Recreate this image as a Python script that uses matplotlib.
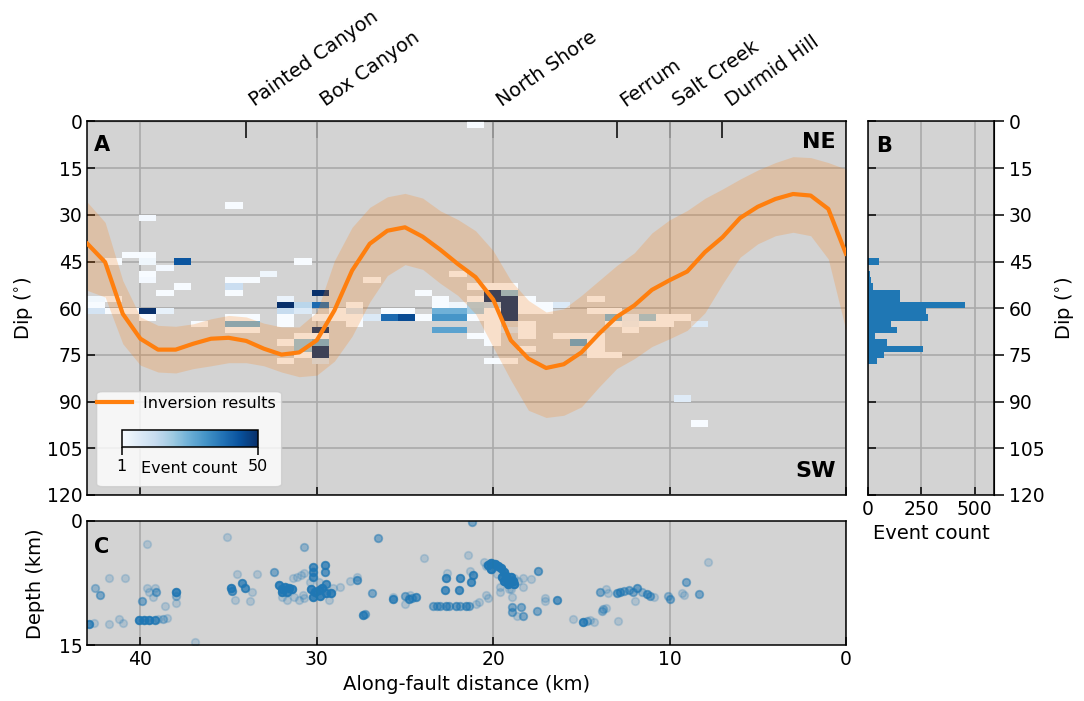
import numpy as np
import matplotlib
matplotlib.use("Agg")
import matplotlib.pyplot as plt
from matplotlib.patches import FancyBboxPatch
from matplotlib.colors import Normalize
from matplotlib.cm import ScalarMappable

# ---------------- data ----------------
place_names = ["Painted Canyon", "Box Canyon", "North Shore", "Ferrum", "Salt Creek", "Durmid Hill"]
place_km = [34, 30, 20, 13, 10, 7]

inv_km = [43, 42, 41, 40, 39, 38, 37, 36, 35, 34, 33, 32, 31, 30, 29, 28, 27, 26, 25, 24, 23, 22,
          21, 20, 19, 18, 17, 16, 15, 14, 13, 12, 11, 10, 9, 8, 7, 6, 5, 4, 3, 2, 1, 0]
inv_dip = [39.3, 45.2, 61.8, 69.8, 73.3, 73.3, 71.4, 69.8, 69.5, 70.5, 73.0, 74.9, 74.2, 70.3, 60.7,
           47.9, 39.3, 35.1, 34.0, 37.0, 41.2, 45.8, 50.0, 57.2, 70.3, 76.2, 79.2, 78.0, 74.2, 68.2,
           62.8, 59.1, 54.1, 51.0, 48.2, 42.0, 37.2, 31.0, 27.4, 24.9, 23.3, 23.8, 28.1, 42.5]
inv_upper = [26.0, 32.4, 51.1, 62.8, 65.5, 65.8, 65.0, 63.4, 62.3, 62.8, 64.8, 66.0, 66.0, 61.2, 44.7,
             34.0, 27.6, 24.2, 23.1, 24.6, 28.7, 31.5, 35.1, 41.5, 51.1, 57.5, 61.2, 60.2, 55.9, 51.1,
             46.3, 42.2, 35.8, 31.6, 28.6, 24.7, 21.7, 18.5, 15.6, 13.2, 11.3, 11.6, 13.2, 15.3]
inv_lower = [54.3, 56.4, 71.4, 78.3, 80.5, 80.8, 79.4, 78.5, 77.5, 77.5, 78.5, 80.5, 82.0, 81.5, 77.0,
             69.0, 58.0, 49.5, 46.0, 47.5, 52.0, 55.9, 61.8, 72.5, 83.1, 92.8, 95.1, 94.4, 91.7, 85.3,
             79.4, 76.2, 72.3, 69.8, 67.1, 61.5, 52.2, 43.6, 39.3, 36.7, 35.6, 36.7, 44.2, 67.1]

# heat-map cells: along-fault distance (km, bin centre), dip bin (lower edge, deg), event count
cell_km = [42.5, 42.5, 42.5,
           41.5, 41.5, 41.5,
           40.6, 40.6,
           39.6, 39.6, 39.6, 39.6, 39.6, 39.6, 39.6,
           38.6, 38.6, 38.6,
           37.6, 37.6,
           36.6,
           34.7, 34.7, 34.7, 34.7, 34.7, 34.7, 34.7,
           33.7, 33.7, 33.7, 33.7,
           32.7,
           31.8, 31.8, 31.8, 31.8, 31.8, 31.8, 31.8,
           30.8, 30.8, 30.8, 30.8, 30.8, 30.8, 30.8,
           29.8, 29.8, 29.8, 29.8, 29.8, 29.8, 29.8, 29.8, 29.8,
           28.8, 28.8,
           27.9, 27.9, 27.9, 27.9,
           26.9, 26.9,
           25.9, 25.9,
           24.9, 24.9,
           23.9, 23.9,
           23.0, 23.0, 23.0, 23.0, 23.0,
           22.0, 22.0, 22.0, 22.0, 22.0,
           21.0, 21.0, 21.0, 21.0, 21.0, 21.0, 21.0,
           20.0, 20.0, 20.0, 20.0, 20.0, 20.0, 20.0, 20.0, 20.0, 20.0, 20.0,
           19.1, 19.1, 19.1, 19.1, 19.1, 19.1, 19.1, 19.1,
           18.1, 18.1, 18.1, 18.1, 18.1, 18.1, 18.1,
           17.1, 17.1,
           16.1, 16.1,
           15.1, 15.1,
           14.2, 14.2, 14.2, 14.2, 14.2, 14.2,
           13.2, 13.2, 13.2, 13.2,
           12.2, 12.2, 12.2,
           11.2, 11.2,
           10.3, 10.3,
           9.3, 9.3,
           8.3, 8.3]
cell_dip = [56, 58, 60,
            44, 56, 60,
            42, 60,
            30, 42, 44, 48, 50, 60, 62,
            46, 54, 60,
            44, 52,
            64,
            26, 50, 52, 54, 62, 64, 66,
            50, 62, 64, 66,
            48,
            56, 58, 60, 62, 64, 70, 76,
            44, 58, 60, 68, 70, 72, 74,
            54, 58, 62, 66, 68, 70, 72, 74, 76,
            60, 62,
            58, 60, 62, 64,
            50, 62,
            60, 62,
            60, 62,
            54, 62,
            56, 58, 60, 62, 66,
            48, 58, 60, 62, 66,
            0, 52, 56, 58, 60, 62, 68,
            52, 54, 56, 58, 60, 62, 64, 66, 68, 70, 76,
            52, 54, 56, 58, 60, 62, 66, 76,
            56, 58, 60, 64, 66, 68, 72,
            58, 60,
            58, 68,
            68, 70,
            56, 60, 68, 70, 72, 74,
            60, 62, 64, 74,
            62, 64, 66,
            62, 64,
            62, 64,
            62, 88,
            64, 96]
cell_count = [3, 1, 10,
              1, 1, 1,
              1, 1,
              2, 1, 3, 1, 2, 50, 1,
              2, 1, 5,
              43, 1,
              1,
              1, 1, 12, 1, 1, 25, 1,
              1, 1, 25, 1,
              3,
              4, 50, 13, 1, 1, 1, 1,
              1, 15, 8, 1, 21, 21, 1,
              50, 39, 1, 50, 1, 25, 50, 50, 10,
              1, 1,
              1, 10, 1, 1,
              1, 8,
              1, 39,
              1, 45,
              1, 1,
              1, 1, 25, 31, 28,
              1, 3, 25, 31, 28,
              1, 1, 1, 17, 18, 1, 1,
              1, 50, 50, 15, 1, 1, 1, 1, 1, 1, 1,
              1, 22, 50, 50, 50, 50, 10, 1,
              1, 1, 1, 1, 1, 1, 1,
              1, 1,
              8, 1,
              1, 28,
              1, 1, 1, 1, 1, 1,
              1, 24, 1, 1,
              5, 4, 1,
              20, 1,
              1, 1,
              1, 7,
              8, 1]

# panel B histogram (dip bin lower edge, count)
hist_dip = [44, 48, 50, 52, 54, 56, 58, 60, 62, 64, 66, 68, 70, 72, 74, 76]
hist_count = [52, 9, 12, 25, 150, 150, 456, 271, 279, 107, 135, 34, 91, 257, 75, 41]

# panel C events: distance (km), depth (km), number of overlapping events
eq_km = [42.9, 42.65, 42.6, 42.3, 41.8, 41.8, 41.2, 41.0, 40.9, 39.9,
         40.1, 39.8, 39.5, 39.2, 39.0, 39.6, 39.6, 39.2, 39.1, 39.5,
         39.3, 38.6, 38.7, 38.5, 38.0, 38.0, 38.0, 36.9,
         35.1, 34.85, 34.8, 34.5, 34.24, 34.05, 34.66, 33.8, 33.7, 33.4, 32.4,
         32.15, 31.95, 31.8, 31.6, 31.4, 32.0, 31.7,
         31.35, 31.1, 30.9, 30.8, 31.0, 31.7, 31.95, 30.7, 31.3,
         30.7, 30.2, 30.2, 30.2, 29.55, 29.55,
         30.35, 30.1, 29.9, 29.7, 29.5, 29.2, 30.2, 29.8, 29.45,
         30.7, 29.1, 29.85, 30.4, 28.7, 29.3,
         27.7, 27.7, 28.1, 26.85, 26.55, 27.4, 27.25,
         25.7, 25.0, 24.8, 24.35, 24.6, 25.7, 25.0, 24.7,
         23.9,
         23.4, 23.2, 23.0, 22.65, 22.5, 22.1, 21.9, 21.55, 21.35,
         22.65, 21.9, 21.15, 22.75, 21.95, 21.25, 22.6, 21.3, 21.4, 21.2,
         20.95, 20.8, 20.4, 20.3,
         20.3, 20.1, 19.9, 19.75, 20.1, 19.55, 19.4, 19.3, 19.2, 19.1, 19.0, 18.9, 19.4, 19.5, 18.8, 19.15,
         20.5, 19.8, 19.6, 19.0, 18.8, 18.6, 18.3, 18.3, 17.85, 19.6, 19.1, 18.95, 20.4,
         17.45, 18.95, 18.4, 18.95, 18.3, 18.65, 17.5, 17.05, 17.05, 16.4,
         15.45, 14.9, 14.7, 14.5, 14.3, 13.85, 13.8, 13.6, 12.9,
         13.95, 13.6, 13.5, 13.0, 12.8, 12.6, 12.3, 12.1, 11.85, 11.55, 11.3, 11.1, 10.9, 11.95,
         10.1, 9.95, 9.3, 9.2, 9.05, 8.35, 7.8]
eq_depth = [12.4, 12.25, 8.1, 8.95, 6.9, 12.4, 11.8, 12.3, 6.9, 9.6,
            11.9, 11.9, 11.9, 11.9, 11.85, 2.8, 8.1, 8.1, 8.6, 8.6,
            9.2, 10.3, 11.8, 11.7, 8.5, 9.0, 9.9, 14.6,
            1.9, 8.05, 8.4, 6.4, 7.5, 8.1, 9.5, 9.7, 8.6, 6.4, 6.2,
            7.7, 8.2, 7.9, 8.1, 8.2, 8.6, 8.5,
            6.9, 6.7, 6.5, 8.9, 9.5, 9.5, 9.1, 6.3, 9.1,
            3.1, 5.5, 6.1, 6.7, 5.3, 6.2,
            8.2, 8.6, 8.3, 8.1, 8.7, 8.7, 9.1, 9.0, 7.6,
            9.3, 8.1, 7.3, 7.3, 8.0, 9.5,
            7.1, 6.8, 7.2, 8.7, 2.0, 11.3, 11.2,
            9.4, 9.0, 9.4, 9.15, 9.3, 9.1, 10.0, 8.9,
            4.5,
            10.2, 10.2, 10.2, 10.2, 10.2, 10.2, 10.2, 10.2, 10.2,
            6.85, 6.85, 6.5, 8.35, 8.35, 7.3, 6.3, 6.0, 4.1, 0.1,
            9.95, 9.8, 8.95, 9.3,
            5.3, 5.1, 5.2, 5.4, 5.8, 5.7, 6.2, 6.6, 7.0, 7.4, 6.8, 7.2, 7.2, 6.7, 7.6, 7.6,
            5.0, 6.4, 7.95, 8.15, 6.9, 7.2, 7.95, 6.9, 7.0, 8.5, 8.2, 9.1, 5.4,
            6.0, 10.35, 10.35, 11.0, 11.4, 11.5, 10.8, 9.3, 9.6, 9.5,
            11.75, 12.2, 12.1, 11.9, 12.2, 10.9, 10.6, 10.5, 12.05,
            8.6, 8.2, 8.7, 8.7, 8.6, 8.4, 8.3, 8.5, 8.1, 8.5, 8.8, 9.0, 9.1, 9.7,
            9.0, 9.45, 8.7, 8.9, 7.3, 8.8, 4.9]
eq_n = [6, 1, 2, 3, 1, 1, 1, 1, 1, 3,
        8, 8, 8, 6, 1, 1, 1, 1, 3, 1,
        1, 1, 2, 1, 8, 2, 1, 1,
        1, 8, 5, 1, 6, 6, 1, 1, 1, 1, 3,
        8, 8, 8, 8, 8, 8, 8,
        1, 1, 1, 1, 1, 1, 1, 1, 1,
        2, 6, 6, 6, 6, 5,
        8, 8, 8, 8, 8, 8, 8, 8, 6,
        1, 1, 1, 1, 1, 1,
        4, 1, 1, 3, 3, 6, 3,
        6, 3, 5, 5, 3, 1, 1, 1,
        1,
        3, 3, 3, 4, 3, 4, 3, 4, 3,
        6, 6, 6, 6, 6, 6, 1, 1, 1, 3,
        1, 1, 1, 1,
        10, 10, 10, 10, 10, 10, 10, 10, 10, 10, 10, 10, 10, 10, 10, 10,
        1, 1, 1, 1, 1, 1, 1, 1, 1, 1, 1, 1, 1,
        4, 3, 3, 3, 3, 1, 3, 1, 1, 5,
        1, 7, 2, 1, 1, 2, 2, 1, 1,
        3, 1, 1, 4, 4, 3, 3, 3, 4, 2, 4, 3, 1, 1,
        2, 3, 1, 1, 3, 3, 1]

# ---------------- figure ----------------
BG = "#d3d3d3"
GRID = "#a9a9a9"
ORANGE = "tab:orange"
BLUE = "tab:blue"
TICK_FS = 13.5
LAB_FS = 14

fig = plt.figure(figsize=(10.84, 7.01), dpi=100)
axA = fig.add_axes([0.0807, 0.2939, 0.6997, 0.5328])
axB = fig.add_axes([0.8007, 0.2939, 0.1163, 0.5328], sharey=axA)
axC = fig.add_axes([0.0807, 0.0792, 0.6997, 0.1776], sharex=axA)

for ax in (axA, axB, axC):
    ax.set_facecolor(BG)
    ax.set_axisbelow(True)
    for s in ax.spines.values():
        s.set_linewidth(1.1)

# ---- panel A ----
x_edges = np.linspace(0, 43, 45)
dip_edges = np.arange(0, 122, 2)
H = np.full((len(dip_edges) - 1, len(x_edges) - 1), np.nan)
ix = np.digitize(cell_km, x_edges) - 1
iy = np.asarray(cell_dip) // 2
H[iy, ix] = cell_count
norm = Normalize(vmin=1, vmax=50)
axA.pcolormesh(x_edges, dip_edges, np.ma.masked_invalid(H), cmap="Blues", norm=norm, zorder=1)

axA.fill_between(inv_km, inv_upper, inv_lower, color=ORANGE, alpha=0.22, lw=0, zorder=2)
axA.plot(inv_km, inv_dip, color=ORANGE, lw=3, zorder=3, label="Inversion results")

axA.set_xlim(43, 0)
axA.set_ylim(120, 0)
axA.set_yticks(np.arange(0, 121, 15))
axA.set_xticks([40, 30, 20, 10, 0])
axA.grid(True, color=GRID, lw=1.2)
axA.tick_params(direction="in", length=6, width=1.1, labelsize=TICK_FS,
                labelbottom=False, top=False)
axA.set_ylabel("Dip ($^{\\circ}$)", fontsize=LAB_FS)
axA.yaxis.set_label_coords(-0.069, 0.5)

axA.text(0.009, 0.965, "A", transform=axA.transAxes, fontsize=15, fontweight="bold",
         ha="left", va="top")
axA.text(0.987, 0.972, "NE", transform=axA.transAxes, fontsize=16, fontweight="bold",
         ha="right", va="top")
axA.text(0.987, 0.037, "SW", transform=axA.transAxes, fontsize=16, fontweight="bold",
         ha="right", va="bottom")

# top place-name axis
secT = axA.secondary_xaxis("top")
secT.set_xticks(place_km)
secT.set_xticklabels(place_names, rotation=35, ha="left", va="bottom", fontsize=LAB_FS)
secT.tick_params(direction="in", length=12, width=1.1, pad=8)

# legend box with colour bar
box = FancyBboxPatch((0.0121, 0.0222), 0.2439, 0.2544,
                     boxstyle="round,pad=0,rounding_size=0.008",
                     transform=axA.transAxes, facecolor="white", edgecolor="0.8",
                     alpha=0.8, lw=1.0, zorder=5)
axA.add_patch(box)
leg = axA.legend(loc="center left", bbox_to_anchor=(0.0125, 0.2455), frameon=False,
                 fontsize=11.5, handlelength=2.2, handletextpad=0.7, borderpad=0,
                 borderaxespad=0)
leg.set_zorder(6)

cax = axA.inset_axes([0.0451, 0.1293, 0.1791, 0.0447])
cax.set_zorder(7)
cb = fig.colorbar(ScalarMappable(norm=norm, cmap="Blues"), cax=cax, orientation="horizontal")
cb.outline.set_linewidth(1.1)
cb.set_ticks([1, 50])
cax.tick_params(labelsize=11.5, length=6, width=1.1, pad=3)
cax.text(0.5, -1.3, "Event count", transform=cax.transAxes, ha="center", va="center",
         fontsize=11.5)

# ---- panel B ----
axB.barh(np.asarray(hist_dip) + 1, hist_count, height=2, color=BLUE, zorder=2)
axB.set_xlim(0, 590)
axB.set_xticks([0, 250, 500])
axB.grid(True, color=GRID, lw=1.2)
axB.tick_params(axis="x", direction="in", length=6, width=1.1, labelsize=TICK_FS)
axB.tick_params(axis="y", direction="in", length=6, width=1.1, left=True, right=False,
                labelleft=False)
axB.set_xlabel("Event count", fontsize=LAB_FS, labelpad=4)
secB = axB.secondary_yaxis("right")
secB.set_yticks(np.arange(0, 121, 15))
secB.tick_params(direction="out", length=7, width=1.1, labelsize=TICK_FS)
secB.set_ylabel("Dip ($^{\\circ}$)", fontsize=LAB_FS, labelpad=6)
axB.text(0.063, 0.961, "B", transform=axB.transAxes, fontsize=15, fontweight="bold",
         ha="left", va="top")

# ---- panel C ----
xk = np.repeat(eq_km, eq_n)
yd = np.repeat(eq_depth, eq_n)
axC.scatter(xk, yd, s=30, color=BLUE, alpha=0.2, edgecolors=BLUE, linewidths=1.2, zorder=2)
axC.set_ylim(15, 0)
axC.set_yticks([0, 15])
axC.grid(True, axis="x", color=GRID, lw=1.2)
axC.tick_params(direction="in", length=6, width=1.1, labelsize=TICK_FS)
axC.set_xlabel("Along-fault distance (km)", fontsize=LAB_FS)
axC.set_ylabel("Depth (km)", fontsize=LAB_FS)
axC.yaxis.set_label_coords(-0.056, 0.5)
axC.text(0.009, 0.87, "C", transform=axC.transAxes, fontsize=15, fontweight="bold",
         ha="left", va="top")

fig.savefig("out.png", dpi=100)
